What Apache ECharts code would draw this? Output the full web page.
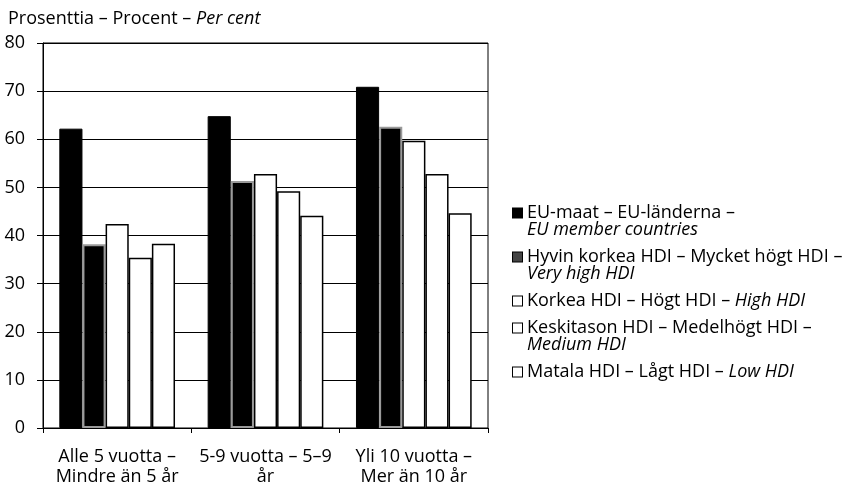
<!DOCTYPE html>
<html>
<head>
<meta charset="utf-8">
<script src="https://cdn.jsdelivr.net/npm/echarts@6/dist/echarts.min.js"></script>
<style>
  html, body { margin: 0; padding: 0; background: #fff; }
  #chart { width: 855px; height: 491px; }
</style>
</head>
<body>
<div id="chart"></div>
<script>
// categories (x axis)
const categories = [
  "Alle 5 vuotta –\nMindre än 5 år",
  "5-9 vuotta – 5–9\når",
  "Yli 10 vuotta –\nMer än 10 år"
];

// series values, percent
const euMaat = [62.2, 64.8, 70.9];
const hyvinKorkea = [38.2, 51.3, 62.6];
const korkea = [42.4, 52.8, 59.7];
const keskitaso = [35.4, 49.2, 52.8];
const matala = [38.3, 44.1, 44.6];

// legend labels: [plain part, italic part]
const legendNames = [
  ["EU-maat – EU-länderna –", "EU member countries"],
  ["Hyvin korkea HDI – Mycket högt HDI –", "Very high HDI"],
  ["Korkea HDI – Högt HDI – ", "High HDI"],
  ["Keskitason HDI – Medelhögt HDI –", "Medium HDI"],
  ["Matala HDI – Lågt HDI – ", "Low HDI"]
];
const wrapItalic = [true, true, false, true, false];

const FONT = "'Open Sans', 'DejaVu Sans', sans-serif";
const FS = 18;

const chart = echarts.init(document.getElementById("chart"), null, { renderer: "canvas" });

const whiteBar = { color: "#fff", borderColor: "#000", borderWidth: 1.5 };

const seriesData = [
  { data: euMaat, itemStyle: { color: "#000", borderColor: "#000", borderWidth: 1 } },
  { data: hyvinKorkea, itemStyle: { color: "#000", borderColor: "#9a9a9a", borderWidth: 2 } },
  { data: korkea, itemStyle: whiteBar },
  { data: keskitaso, itemStyle: whiteBar },
  { data: matala, itemStyle: whiteBar }
];

const names = legendNames.map(n => n[0] + n[1]);

const iconBase = { width: 9, height: 9, borderColor: "#000", borderWidth: 1 };

const option = {
  animation: false,
  textStyle: { fontFamily: FONT, color: "#000" },
  title: {
    text: "{n|Prosenttia – Procent – }{i|Per cent}",
    left: 3,
    top: 5,
    textStyle: {
      rich: {
        n: { fontFamily: FONT, fontSize: FS, fontWeight: "normal", color: "#000" },
        i: { fontFamily: FONT, fontSize: FS, fontWeight: "normal", fontStyle: "italic", color: "#000" }
      }
    }
  },
  grid: { left: 43, right: 367, top: 43, bottom: 63, show: true, borderColor: "#000", borderWidth: 1, backgroundColor: "transparent" },
  legend: {
    orient: "vertical",
    left: 502,
    top: 199,
    itemWidth: 0,
    itemHeight: 0,
    itemGap: 9,
    icon: "rect",
    selectedMode: false,
    data: names,
    formatter: function (name) {
      const i = names.indexOf(name);
      const n = legendNames[i];
      if (wrapItalic[i]) {
        return "{ic" + i + "|}{sp|}{t|" + n[0] + "}\n{in|}{it|" + n[1] + "}";
      }
      return "{ic" + i + "|}{sp|}{t|" + n[0] + "}{it|" + n[1] + "}";
    },
    textStyle: {
      fontFamily: FONT,
      fontSize: FS,
      color: "#000",
      lineHeight: 17,
      rich: {
        t: { fontFamily: FONT, fontSize: FS, color: "#000", lineHeight: 17 },
        it: { fontFamily: FONT, fontSize: FS, fontStyle: "italic", color: "#000", lineHeight: 17 },
        sp: { width: 5 },
        in: { width: 14 },
        ic0: Object.assign({}, iconBase, { backgroundColor: "#000" }),
        ic1: Object.assign({}, iconBase, { backgroundColor: "#444" }),
        ic2: Object.assign({}, iconBase, { backgroundColor: "#fff" }),
        ic3: Object.assign({}, iconBase, { backgroundColor: "#fff" }),
        ic4: Object.assign({}, iconBase, { backgroundColor: "#fff" })
      }
    }
  },
  xAxis: {
    type: "category",
    data: categories,
    axisLine: { lineStyle: { color: "#000", width: 1 } },
    axisTick: { show: true, length: 5, lineStyle: { color: "#000" } },
    axisLabel: {
      interval: 0,
      margin: 19,
      color: "#000",
      fontFamily: FONT,
      fontSize: FS,
      lineHeight: 20
    },
    splitLine: { show: false }
  },
  yAxis: {
    type: "value",
    min: 0,
    max: 80,
    interval: 10,
    axisLine: { show: true, lineStyle: { color: "#000", width: 1 } },
    axisTick: { show: true, length: 6, lineStyle: { color: "#000" } },
    axisLabel: { margin: 18, color: "#000", fontFamily: FONT, fontSize: FS },
    splitLine: { show: true, lineStyle: { color: "#000", width: 1 } }
  },
  series: seriesData.map((s, i) => ({
    name: names[i],
    type: "bar",
    data: s.data,
    barGap: "0%",
    barCategoryGap: "22%",
    itemStyle: s.itemStyle,
    emphasis: { disabled: true }
  }))
};

chart.setOption(option);
</script>
</body>
</html>
